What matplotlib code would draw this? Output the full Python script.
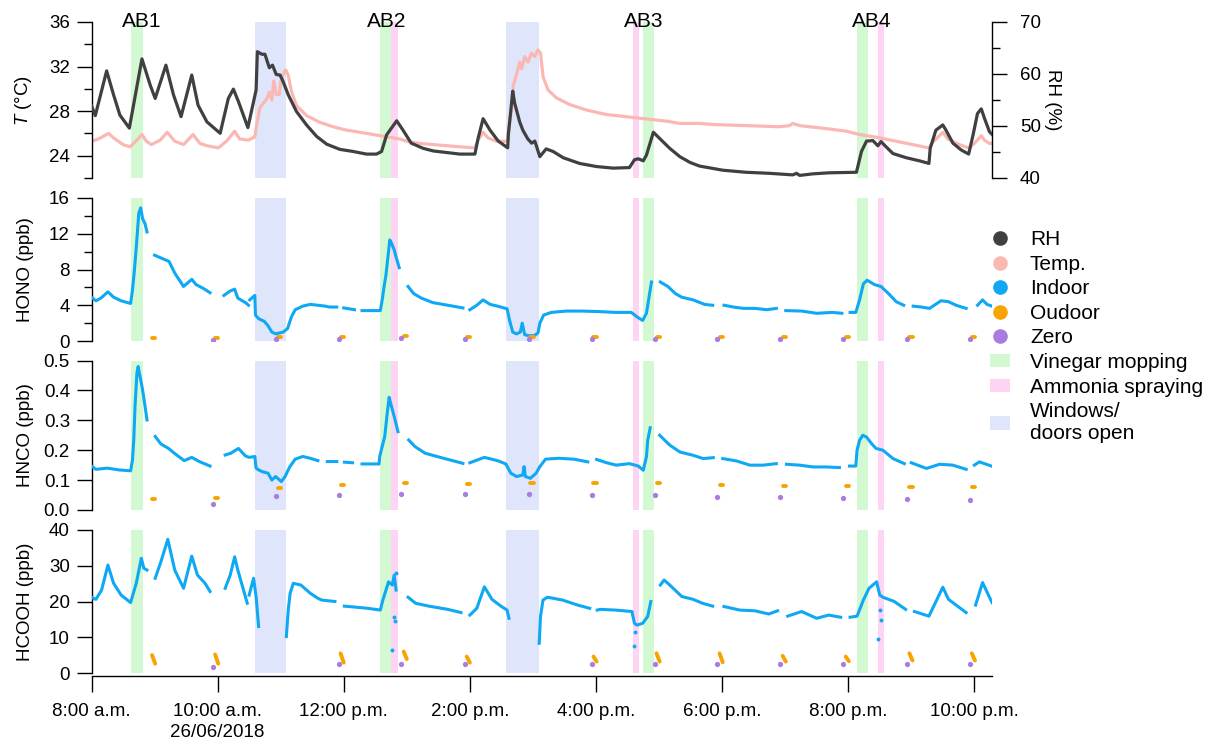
import numpy as np
import matplotlib
matplotlib.use("Agg")
import matplotlib.pyplot as plt
from matplotlib.lines import Line2D
from matplotlib.patches import Patch

plt.rcParams['font.family'] = ['Liberation Sans', 'DejaVu Sans']
plt.rcParams['font.size'] = 13.5
plt.rcParams['mathtext.fontset'] = 'custom'
plt.rcParams['mathtext.it'] = 'Liberation Sans:italic'
plt.rcParams['mathtext.rm'] = 'Liberation Sans'

GAP = (None, None)   # breaks a line

# ---- data (time in hours of 26/06/2018) ----
temp = [(8.00, 25.3), (8.11, 25.5), (8.27, 26.0), (8.35, 25.6), (8.50, 25.0), (8.61, 24.8), (8.72, 25.4),
        (8.80, 25.9), (8.87, 25.3), (8.95, 25.0), (9.09, 25.4), (9.20, 26.1), (9.32, 25.3), (9.46, 25.0),
        (9.61, 25.9), (9.72, 25.1), (9.83, 24.9), (10.01, 24.7), (10.14, 25.3), (10.27, 26.2), (10.35, 25.5),
        (10.49, 25.4), (10.59, 25.7), (10.62, 26.8), (10.67, 28.3), (10.71, 28.6), (10.78, 29.1), (10.82, 29.7),
        (10.86, 29.0), (10.89, 30.7), (10.93, 29.5), (10.98, 29.5), (11.00, 30.6), (11.04, 31.3), (11.08, 31.7),
        (11.12, 31.2), (11.17, 29.8), (11.25, 28.5), (11.41, 27.6), (11.62, 27.0), (11.83, 26.6), (12.04, 26.3),
        (12.26, 26.1), (12.47, 25.9), (12.68, 25.7), (12.89, 25.5), (13.00, 25.3), (13.21, 25.1), (13.42, 25.0),
        (13.63, 24.9), (13.84, 24.8), (14.08, 24.7), (14.13, 25.4), (14.21, 26.1), (14.29, 25.6), (14.42, 25.3),
        (14.60, 25.3), (14.61, 26.3), (14.66, 28.0), (14.69, 30.3), (14.74, 31.3), (14.79, 32.4), (14.82, 31.8),
        (14.87, 32.9), (14.92, 32.4), (14.98, 33.2), (15.03, 32.9), (15.08, 33.5), (15.12, 33.2), (15.16, 31.1),
        (15.24, 29.9), (15.37, 29.2), (15.58, 28.6), (15.85, 28.1), (16.16, 27.7), (16.48, 27.5), (16.80, 27.3),
        (17.12, 27.1), (17.33, 26.9), (17.64, 26.9), (17.86, 26.8), (18.38, 26.7), (18.91, 26.6), (19.07, 26.7),
        (19.12, 26.9), (19.23, 26.7), (19.70, 26.4), (19.97, 26.2), (20.18, 25.9), (20.50, 25.6), (20.76, 25.3),
        (21.02, 25.0), (21.28, 24.7), (21.34, 25.2), (21.50, 26.1), (21.58, 25.5), (21.76, 25.0), (21.91, 24.7),
        (22.00, 25.1), (22.11, 25.8), (22.16, 25.4), (22.24, 25.1), (22.28, 25.1)]

rh = [(8.00, 53.9), (8.06, 52.0), (8.24, 60.6), (8.35, 56.0), (8.45, 52.1), (8.60, 49.6), (8.80, 62.9),
      (8.93, 57.9), (9.01, 55.3), (9.18, 61.7), (9.30, 56.0), (9.42, 51.8), (9.59, 59.8), (9.69, 54.0),
      (9.83, 50.8), (10.04, 48.6), (10.17, 55.3), (10.25, 57.1), (10.33, 54.7), (10.48, 49.7), (10.61, 56.9),
      (10.63, 64.3), (10.70, 63.8), (10.75, 63.8), (10.82, 61.2), (10.87, 61.7), (10.93, 59.9), (10.99, 59.8),
      (11.04, 58.5), (11.12, 56.0), (11.25, 52.8), (11.41, 50.2), (11.57, 48.0), (11.73, 46.5), (11.94, 45.5),
      (12.15, 45.1), (12.36, 44.6), (12.52, 44.6), (12.60, 45.1), (12.68, 48.3), (12.84, 51.0), (12.94, 49.2),
      (13.07, 46.7), (13.26, 45.7), (13.42, 45.2), (13.63, 44.9), (13.84, 44.6), (14.08, 44.6), (14.13, 47.6),
      (14.21, 51.4), (14.32, 49.2), (14.45, 47.1), (14.60, 45.8), (14.61, 48.3), (14.68, 56.7), (14.71, 54.4),
      (14.79, 50.8), (14.84, 49.2), (14.92, 47.5), (14.98, 46.7), (15.03, 47.1), (15.11, 44.1), (15.21, 45.6),
      (15.32, 45.1), (15.48, 43.9), (15.74, 42.8), (16.01, 42.2), (16.27, 41.9), (16.53, 42.0), (16.61, 43.5),
      (16.67, 43.7), (16.75, 43.3), (16.80, 44.4), (16.91, 48.8), (17.01, 47.6), (17.17, 45.7), (17.33, 44.1),
      (17.49, 43.0), (17.64, 42.3), (18.01, 41.5), (18.38, 41.1), (18.75, 40.9), (19.12, 40.6), (19.18, 40.9),
      (19.23, 40.5), (19.44, 40.8), (19.70, 41.0), (20.13, 41.1), (20.21, 45.1), (20.29, 47.1), (20.39, 47.2),
      (20.47, 46.2), (20.52, 47.0), (20.60, 46.0), (20.71, 44.7), (20.92, 43.9), (21.13, 43.3), (21.28, 42.8),
      (21.30, 45.7), (21.39, 49.2), (21.50, 50.2), (21.55, 49.2), (21.66, 46.7), (21.79, 45.4), (21.91, 44.6),
      (21.98, 48.3), (22.05, 52.4), (22.11, 53.3), (22.16, 51.5), (22.24, 48.9), (22.28, 48.4)]

hono = [(8.00, 4.9), (8.07, 4.5), (8.15, 4.8), (8.26, 5.5), (8.35, 4.9), (8.47, 4.5), (8.62, 4.2), (8.65, 5.7),
        (8.68, 7.9), (8.71, 10.5), (8.75, 14.3), (8.78, 14.9), (8.81, 13.7), (8.85, 13.1), (8.88, 12.2), GAP,
        (9.00, 9.6), (9.10, 9.3), (9.23, 8.9), (9.32, 7.6), (9.46, 6.1), (9.59, 6.9), (9.66, 6.3), (9.77, 5.9),
        (9.88, 5.4), GAP,
        (10.10, 5.1), (10.20, 5.6), (10.27, 5.8), (10.32, 4.8), (10.44, 4.3), (10.49, 4.0), GAP,
        (10.51, 4.6), (10.59, 5.1), (10.60, 2.9), (10.65, 2.5), (10.74, 2.2), (10.80, 1.7), (10.86, 1.0),
        (10.92, 0.8), (10.98, 0.9), (11.04, 1.0), (11.11, 1.4), (11.17, 2.7), (11.23, 3.5), (11.35, 3.9),
        (11.47, 4.1), (11.59, 4.0), (11.71, 3.9), (11.77, 3.8), (11.89, 3.8), GAP,
        (12.00, 3.7), (12.17, 3.5), GAP,
        (12.29, 3.4), (12.58, 3.4), (12.61, 4.6), (12.64, 6.1), (12.67, 7.4), (12.70, 9.4), (12.73, 11.3),
        (12.76, 10.9), (12.80, 10.2), (12.83, 9.4), (12.88, 8.2), GAP,
        (13.02, 6.1), (13.11, 5.3), (13.23, 4.8), (13.41, 4.3), (13.65, 4.0), (13.89, 3.7), GAP,
        (14.00, 3.5), (14.11, 4.0), (14.21, 4.6), (14.32, 4.1), (14.44, 3.9), (14.59, 3.6), (14.63, 2.3),
        (14.68, 1.0), (14.74, 0.8), (14.80, 1.0), (14.83, 2.0), (14.87, 0.7), (14.93, 0.6), (15.02, 0.6),
        (15.08, 0.9), (15.11, 2.0), (15.17, 2.9), (15.29, 3.2), (15.53, 3.35), (15.77, 3.35), (16.02, 3.3),
        (16.31, 3.2), (16.56, 3.2), (16.65, 2.7), (16.74, 2.3), (16.80, 3.1), (16.85, 5.3), (16.88, 6.6), GAP,
        (17.02, 6.6), (17.14, 6.1), (17.26, 5.3), (17.36, 4.9), (17.54, 4.6), (17.72, 4.1), (17.85, 4.0), GAP,
        (18.03, 4.0), (18.18, 3.8), (18.34, 3.65), (18.52, 3.65), (18.71, 3.5), (18.86, 3.65), GAP,
        (19.01, 3.4), (19.26, 3.35), (19.50, 3.1), (19.75, 3.2), (19.90, 3.1), GAP,
        (20.03, 3.2), (20.12, 3.2), (20.18, 4.6), (20.24, 6.4), (20.30, 6.8), (20.42, 6.3), (20.52, 6.1),
        (20.64, 5.3), (20.76, 4.4), (20.88, 4.0), GAP,
        (21.03, 3.9), (21.16, 3.8), (21.29, 3.65), (21.47, 4.5), (21.59, 4.4), (21.71, 4.0), (21.87, 3.65), GAP,
        (22.05, 4.0), (22.13, 4.6), (22.20, 4.1), (22.28, 3.9)]

hnco = [(8.00, 0.147), (8.07, 0.136), (8.25, 0.140), (8.44, 0.134), (8.62, 0.131), (8.65, 0.167),
        (8.67, 0.234), (8.69, 0.346), (8.72, 0.458), (8.74, 0.480), (8.77, 0.446), (8.81, 0.402),
        (8.85, 0.346), (8.88, 0.301), GAP,
        (9.01, 0.246), (9.10, 0.221), (9.22, 0.206), (9.35, 0.184), (9.47, 0.165), (9.59, 0.176),
        (9.71, 0.162), (9.88, 0.147), GAP,
        (10.12, 0.184), (10.21, 0.190), (10.33, 0.206), (10.44, 0.181), (10.50, 0.176), (10.59, 0.179),
        (10.61, 0.140), (10.65, 0.134), (10.71, 0.128), (10.80, 0.123), (10.86, 0.100), (10.92, 0.112),
        (11.01, 0.095), (11.07, 0.112), (11.14, 0.143), (11.23, 0.170), (11.35, 0.179), (11.47, 0.173),
        (11.59, 0.165), GAP,
        (11.74, 0.162), (11.89, 0.162), GAP, (12.01, 0.160), (12.14, 0.158), GAP,
        (12.29, 0.154), (12.56, 0.154), (12.57, 0.179), (12.61, 0.212), (12.65, 0.246), (12.69, 0.324),
        (12.72, 0.377), (12.75, 0.352), (12.80, 0.313), (12.86, 0.262), GAP,
        (13.03, 0.234), (13.13, 0.212), (13.29, 0.190), (13.53, 0.176), (13.89, 0.156), GAP,
        (14.00, 0.158), (14.23, 0.176), (14.44, 0.165), (14.57, 0.154), (14.65, 0.123), (14.74, 0.112),
        (14.84, 0.117), (14.86, 0.145), (14.88, 0.112), (14.96, 0.106), (15.05, 0.123), (15.11, 0.145),
        (15.20, 0.170), (15.41, 0.173), (15.65, 0.170), (15.87, 0.161), GAP,
        (16.01, 0.169), (16.17, 0.158), (16.32, 0.150), (16.53, 0.155), (16.67, 0.147), (16.75, 0.133),
        (16.80, 0.178), (16.82, 0.233), (16.86, 0.275), GAP,
        (17.01, 0.250), (17.17, 0.217), (17.33, 0.194), (17.54, 0.183), (17.70, 0.172), (17.86, 0.175), GAP,
        (18.01, 0.172), (18.23, 0.164), (18.44, 0.150), (18.65, 0.150), (18.86, 0.155), GAP,
        (19.02, 0.153), (19.23, 0.150), (19.44, 0.144), (19.65, 0.144), (19.86, 0.142), GAP,
        (20.02, 0.147), (20.12, 0.147), (20.14, 0.200), (20.18, 0.233), (20.23, 0.250), (20.29, 0.244),
        (20.37, 0.222), (20.44, 0.206), (20.55, 0.200), (20.71, 0.172), (20.89, 0.155), GAP,
        (21.00, 0.158), (21.24, 0.139), (21.45, 0.153), (21.66, 0.150), (21.87, 0.136), GAP,
        (22.00, 0.150), (22.08, 0.161), (22.27, 0.147)]

hcooh = [(8.00, 21.2), (8.07, 20.6), (8.16, 23.2), (8.26, 30.2), (8.35, 25.1), (8.47, 21.8), (8.62, 19.7),
         (8.71, 25.1), (8.79, 32.1), (8.83, 29.3), (8.88, 28.8), GAP,
         (9.01, 26.5), (9.10, 31.1), (9.21, 37.4), (9.32, 28.8), (9.46, 23.7), (9.59, 32.7), (9.68, 27.4),
         (9.80, 25.1), (9.88, 22.8), GAP,
         (10.12, 23.7), (10.20, 27.4), (10.27, 32.5), (10.32, 28.8), (10.38, 25.1), (10.47, 19.5), GAP,
         (10.50, 21.8), (10.57, 26.5), (10.61, 21.4), (10.65, 13.0), GAP,
         (11.09, 10.2), (11.12, 17.6), (11.15, 22.3), (11.20, 25.1), (11.32, 24.6), (11.47, 22.3),
         (11.59, 20.9), (11.65, 20.4), (11.86, 20.0), GAP,
         (12.01, 18.7), (12.20, 18.4), (12.38, 18.1), (12.58, 17.6), (12.62, 20.4), (12.67, 23.2),
         (12.71, 25.5), (12.77, 24.6), (12.80, 27.4), (12.83, 23.2), GAP,
         (13.02, 21.2), (13.14, 19.5), (13.35, 18.7), (13.65, 17.8), (13.86, 16.9), GAP,
         (14.00, 16.2), (14.11, 18.1), (14.23, 24.1), (14.35, 20.6), (14.50, 18.6), (14.59, 17.6),
         (14.62, 15.3), GAP,
         (15.10, 8.3), (15.12, 15.8), (15.16, 20.4), (15.23, 21.2), (15.47, 20.4), (15.71, 19.0),
         (15.90, 18.1), GAP,
         (16.02, 17.6), (16.07, 17.8), (16.31, 17.6), (16.57, 17.2), (16.61, 13.9), (16.65, 13.4),
         (16.74, 13.9), (16.82, 15.8), (16.87, 20.0), GAP,
         (17.02, 24.6), (17.08, 26.0), (17.17, 24.6), (17.36, 21.4), (17.54, 20.6), (17.69, 19.5),
         (17.85, 18.7), GAP,
         (18.03, 18.6), (18.28, 17.6), (18.52, 17.4), (18.74, 16.5), (18.88, 17.4), GAP,
         (19.04, 15.9), (19.26, 17.2), (19.50, 15.3), (19.69, 16.2), (19.88, 15.6), GAP,
         (20.03, 15.6), (20.14, 15.9), (20.24, 20.4), (20.33, 23.7), (20.45, 25.5), (20.50, 21.8),
         (20.55, 21.2), (20.73, 20.0), (20.91, 17.8), GAP,
         (21.05, 17.2), (21.28, 15.9), (21.50, 24.0), (21.59, 20.6), (21.87, 16.9), GAP,
         (22.02, 19.0), (22.13, 25.3), (22.28, 19.7)]

# isolated indoor HCOOH points after the ammonia sprays
hcooh_scatter = [(12.77, 6.4), (12.80, 15.8), (12.81, 14.6), (12.83, 27.9), (16.61, 7.6), (16.62, 11.6),
                 (20.48, 9.4), (20.50, 17.6), (20.52, 14.8)]

# outdoor sampling (start time of each short measurement) and zero checks
out_t = [8.96, 9.96, 10.96, 11.95, 12.95, 13.95, 14.96, 15.96, 16.96, 17.96, 18.96, 19.96, 20.97, 21.96]
hono_out = [0.30, 0.35, 0.50, 0.50, 0.55, 0.50, 0.45, 0.50, 0.45, 0.45, 0.40, 0.40, 0.50, 0.45]
hnco_out = [0.036, 0.040, 0.072, 0.083, 0.089, 0.086, 0.090, 0.090, 0.089, 0.083, 0.081, 0.081, 0.078, 0.076]
hcooh_out_start = [5.0, 5.2, None, 5.5, 6.0, 4.6, None, 4.6, 5.5, 5.5, 4.8, 4.6, 5.5, 5.5]
hcooh_out_end = [2.6, 2.6, None, 2.9, 3.9, 2.9, None, 3.2, 3.2, 3.0, 3.2, 3.3, 3.5, 3.5]

zero_t = [9.92, 10.92, 11.92, 12.91, 13.92, 14.93, 15.93, 16.93, 17.92, 18.92, 19.92, 20.93, 21.93]
hono_zero = [0.10, 0.25, 0.25, 0.30, 0.25, 0.25, 0.25, 0.25, 0.22, 0.22, 0.22, 0.22, 0.22]
hnco_zero = [0.020, 0.046, 0.051, 0.054, 0.052, 0.052, 0.050, 0.050, 0.044, 0.042, 0.040, 0.037, 0.034]
hcooh_zero = [1.6, None, 2.5, 2.5, 2.5, None, 2.5, 2.5, 2.5, 2.5, 2.5, 2.5, 2.5]

vinegar = [(8.63, 8.81), (12.58, 12.75), (16.75, 16.92), (20.14, 20.31)]
ammonia = [(12.75, 12.86), (16.58, 16.69), (20.48, 20.57)]
windows = [(10.59, 11.09), (14.58, 15.10)]
ab_labels = ["AB1", "AB2", "AB3", "AB4"]
ab_time = [8.80, 12.68, 16.75, 20.37]

xtick_pos = [8, 10, 12, 14, 16, 18, 20, 22]
xtick_lab = ["8:00 a.m.", "10:00 a.m.\n26/06/2018", "12:00 p.m.", "2:00 p.m.",
             "4:00 p.m.", "6:00 p.m.", "8:00 p.m.", "10:00 p.m."]

c_rh = "#404040"
c_temp = "#fbb8b3"
c_in = "#0ea8f4"
c_out = "#f8a400"
c_zero = "#a97ddf"
c_vin = "#d2f9d2"
c_amm = "#fdd4f3"
c_win = "#dfe6fb"


def xy(pairs):
    a = np.array(pairs, dtype=float)
    return a[:, 0], a[:, 1]


W, H = 1206, 740
fig = plt.figure(figsize=(W / 100, H / 100), dpi=100)


def box(top, bottom):
    return [91.5 / W, 1 - bottom / H, (992 - 91.5) / W, (bottom - top) / H]


ax0 = fig.add_axes(box(22, 178))
ax1 = fig.add_axes(box(198, 341))
ax2 = fig.add_axes(box(360.5, 510))
ax3 = fig.add_axes(box(530, 673))
axes = [ax0, ax1, ax2, ax3]

for ax in axes:
    for a, b in vinegar:
        ax.axvspan(a, b, color=c_vin, lw=0, zorder=0)
    for a, b in ammonia:
        ax.axvspan(a, b, color=c_amm, lw=0, zorder=0)
    for a, b in windows:
        ax.axvspan(a, b, color=c_win, lw=0, zorder=0)
    ax.set_xlim(8.0, 22.28)
    for s in ["top", "right"]:
        ax.spines[s].set_visible(False)
    ax.spines["left"].set_linewidth(1.0)
    ax.tick_params(axis="y", which="major", direction="out", length=11, width=1, pad=4.5, labelsize=13.5)
    ax.tick_params(axis="y", which="minor", direction="out", length=5.5, width=1)
    if ax is not ax3:
        ax.spines["bottom"].set_visible(False)
        ax.set_xticks([])

# top panel: temperature (left) and RH (right)
t, v = xy(temp)
ax0.plot(t, v, color=c_temp, lw=2.3, zorder=2)
ax0.set_ylim(22, 36)
ax0.set_yticks([24, 28, 32, 36])
ax0.set_yticks([22, 26, 30, 34], minor=True)
ax0.set_ylabel("$T$ (°C)")
for lab, tt in zip(ab_labels, ab_time):
    ax0.text(tt, 36, lab, ha="center", va="center", fontsize=15)

ax0r = ax0.twinx()
t, v = xy(rh)
ax0r.plot(t, v, color=c_rh, lw=2.3, zorder=3)
ax0r.set_ylim(40, 70)
ax0r.set_yticks([40, 50, 60, 70])
ax0r.set_yticks([45, 55, 65], minor=True)
for s in ["top", "left", "bottom"]:
    ax0r.spines[s].set_visible(False)
ax0r.spines["right"].set_linewidth(1.0)
ax0r.tick_params(axis="y", which="major", direction="out", length=11, width=1, pad=9, labelsize=13.5)
ax0r.tick_params(axis="y", which="minor", direction="out", length=5.5, width=1)
ax0r.set_ylabel("RH (%)", rotation=270, va="bottom")
ax0r.yaxis.set_label_coords(1.058, 0.5)
ax0r.set_xlim(8.0, 22.28)

# trace gases
panels = [(ax1, hono, hono_out, hono_out, hono_zero, (0, 16), [0, 4, 8, 12, 16], [2, 6, 10, 14], "HONO (ppb)"),
          (ax2, hnco, hnco_out, hnco_out, hnco_zero, (0, 0.5), [0, 0.1, 0.2, 0.3, 0.4, 0.5], [], "HNCO (ppb)"),
          (ax3, hcooh, hcooh_out_start, hcooh_out_end, hcooh_zero, (0, 40), [0, 10, 20, 30, 40], [], "HCOOH (ppb)")]
for ax, series, o1, o2, zz, lim, ticks, mticks, lab in panels:
    t, v = xy(series)
    ax.plot(t, v, color=c_in, lw=2.2, zorder=3)
    for tt, a, b in zip(out_t, o1, o2):
        if a is None:
            continue
        ax.plot([tt, tt + 0.05], [a, b], color=c_out, lw=2.8, solid_capstyle="round", zorder=3)
    zt = [tt for tt, z in zip(zero_t, zz) if z is not None]
    zv = [z for z in zz if z is not None]
    ax.plot(zt, zv, "o", color=c_zero, ms=3.8, mew=0, zorder=3)
    ax.set_ylim(*lim)
    ax.set_yticks(ticks)
    if mticks:
        ax.set_yticks(mticks, minor=True)
    ax.set_ylabel(lab)

t, v = xy(hcooh_scatter)
ax3.plot(t, v, "o", color=c_in, ms=2.8, mew=0, zorder=3)

ax2.set_yticklabels([f"{x:.1f}" for x in [0, 0.1, 0.2, 0.3, 0.4, 0.5]])

for ax in axes:
    ax.yaxis.set_label_coords(-0.064, 0.5)

ax3.spines["bottom"].set_position(("outward", 2.2))
ax3.spines["bottom"].set_linewidth(1.0)
ax3.set_xticks(xtick_pos)
ax3.set_xticklabels(xtick_lab, linespacing=1.3)
ax3.tick_params(axis="x", direction="out", length=11.5, width=1, pad=8, labelsize=13.5)

handles = [Line2D([], [], marker="o", ls="", color=c_rh, ms=9.5),
           Line2D([], [], marker="o", ls="", color=c_temp, ms=9.5),
           Line2D([], [], marker="o", ls="", color=c_in, ms=9.5),
           Line2D([], [], marker="o", ls="", color=c_out, ms=9.5),
           Line2D([], [], marker="o", ls="", color=c_zero, ms=9.5),
           Patch(color=c_vin, lw=0), Patch(color=c_amm, lw=0), Patch(color=c_win, lw=0)]
labels = ["RH", "Temp.", "Indoor", "Oudoor", "Zero", "Vinegar mopping", "Ammonia spraying", "Windows/\ndoors open"]
fig.legend(handles, labels, loc="upper left", bbox_to_anchor=(990 / W, 1 - 230 / H), frameon=False,
           borderpad=0, borderaxespad=0, handlelength=0.96, handleheight=0.61, handletextpad=0.96,
           labelspacing=0.27, fontsize=15)

fig.savefig("out.png", dpi=100)
